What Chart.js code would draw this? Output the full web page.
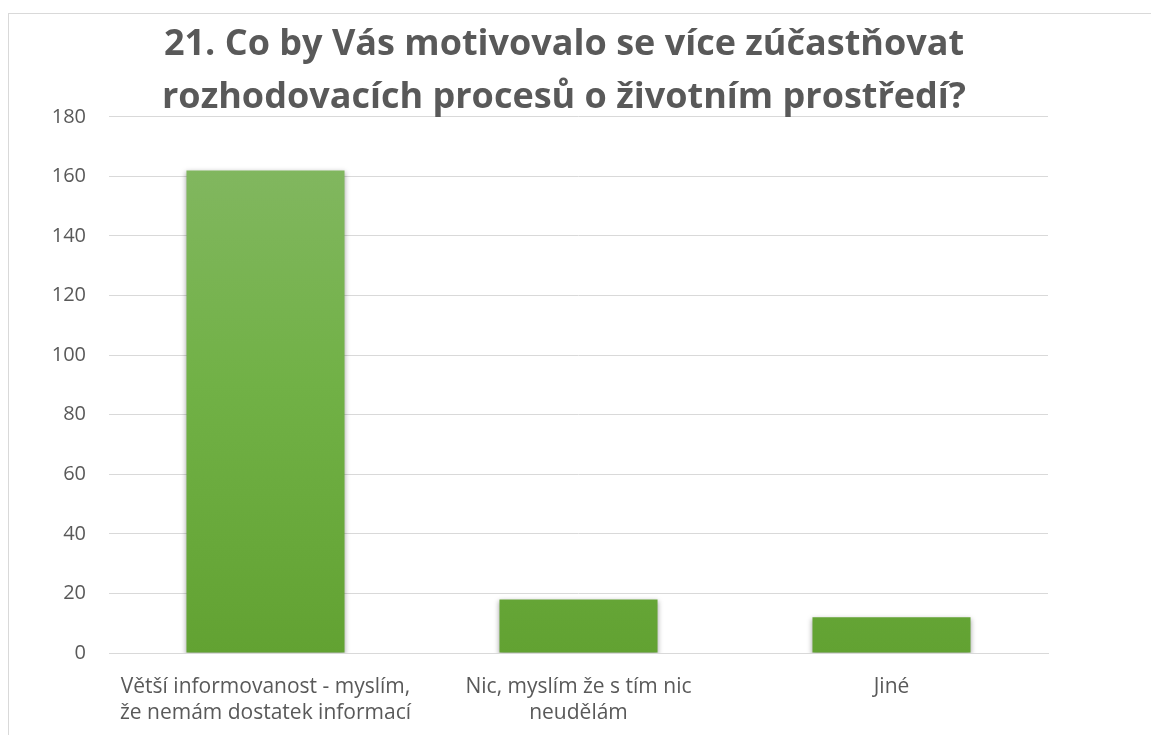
<!DOCTYPE html>
<html>
<head>
<meta charset="utf-8">
<script src="https://cdn.jsdelivr.net/npm/chart.js@4.4.1/dist/chart.umd.min.js"></script>
<style>
  html, body { margin: 0; padding: 0; background: #fff; overflow: hidden; }
  #ramecek {
    position: absolute; left: 8px; top: 13px; width: 1150px; height: 740px;
    border-left: 1px solid #d9d9d9; border-top: 1px solid #d9d9d9;
  }
  #graf-box { position: absolute; left: 9px; top: 14px; width: 1142px; height: 721px; }
</style>
</head>
<body>
<div id="ramecek"></div>
<div id="graf-box"><canvas id="graf"></canvas></div>
<script>
// Odpovědi na otázku 21
const kategorie = [
  ["Větší informovanost - myslím,", "že nemám dostatek informací"],
  ["Nic, myslím že s tím nic", "neudělám"],
  "Jiné",
];
const pocty = [162, 18, 12];
const osaY = { min: 0, max: 180, krok: 20 };
const nadpis = [
  "21. Co by Vás motivovalo se více zúčastňovat",
  "rozhodovacích procesů o životním prostředí?",
];

const sedaTextu = "#595959";
const mrizka = "#d9d9d9";
const pismo = "'Open Sans', sans-serif";

// zelený přechod sloupců (světlejší nahoře)
function prechod(context) {
  const area = context.chart.chartArea;
  if (!area) return "#70ad47";
  const g = context.chart.ctx.createLinearGradient(0, area.top, 0, area.bottom);
  g.addColorStop(0, "#85b865");
  g.addColorStop(0.5, "#71b146");
  g.addColorStop(1, "#62a232");
  return g;
}

// jemný stín pod sloupci
const stin = {
  id: "stin",
  beforeDatasetsDraw(chart) {
    const ctx = chart.ctx;
    ctx.save();
    ctx.shadowColor = "rgba(0,0,0,0.35)";
    ctx.shadowBlur = 5;
    ctx.shadowOffsetY = 2;
  },
  afterDatasetsDraw(chart) {
    chart.ctx.restore();
  },
};

new Chart(document.getElementById("graf"), {
  type: "bar",
  data: {
    labels: kategorie,
    datasets: [
      {
        data: pocty,
        backgroundColor: prechod,
        borderWidth: 0,
        barPercentage: 0.505,
        categoryPercentage: 1,
      },
    ],
  },
  options: {
    responsive: true,
    maintainAspectRatio: false,
    animation: false,
    layout: { padding: { left: 0, right: 32, top: 0, bottom: 0 } },
    plugins: {
      legend: { display: false },
      tooltip: { enabled: false },
      title: {
        display: true,
        text: nadpis,
        color: sedaTextu,
        font: { family: pismo, size: 36, weight: "bold", lineHeight: 1.47 },
        padding: { top: 4, bottom: -7 },
      },
    },
    scales: {
      x: {
        grid: { display: false },
        border: { color: mrizka, width: 1 },
        ticks: {
          color: sedaTextu,
          font: { family: pismo, size: 21, lineHeight: 1.25 },
          padding: 13,
          maxRotation: 0,
          autoSkip: false,
        },
        afterFit(scale) { scale.height = 82; },
      },
      y: {
        min: osaY.min,
        max: osaY.max,
        grid: { color: mrizka, lineWidth: 1, drawTicks: false },
        border: { display: false },
        ticks: {
          stepSize: osaY.krok,
          color: sedaTextu,
          font: { family: pismo, size: 20 },
          padding: 23,
        },
        afterFit(scale) { scale.width = 100; },
      },
      // prázdná osa vpravo, jen drží místo
      y2: {
        position: "right",
        grid: { display: false },
        border: { display: false },
        ticks: { display: false },
        afterFit(scale) { scale.width = 71; },
      },
    },
  },
  plugins: [stin],
});
</script>
</body>
</html>
